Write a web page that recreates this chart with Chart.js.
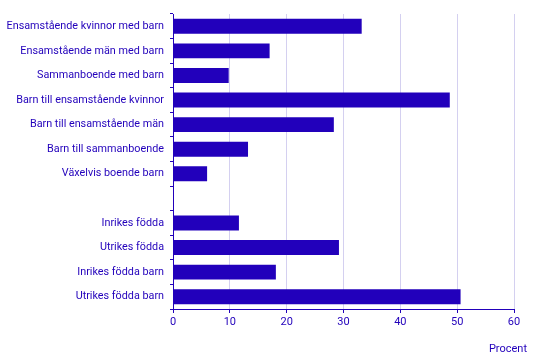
<!DOCTYPE html>
<html>
<head>
<meta charset="utf-8">
<script src="https://cdn.jsdelivr.net/npm/chart.js@4/dist/chart.umd.min.js"></script>
<style>
  html, body { margin: 0; padding: 0; background: #fff; }
  #wrap { position: relative; width: 535px; height: 363px; }
  #unit { position: absolute; right: 8px; top: 342px; font: 11px Roboto, sans-serif; color: #2200bb; }
</style>
</head>
<body>
<div id="wrap">
  <canvas id="c" width="535" height="363"></canvas>
  <div id="unit">Procent</div>
</div>
<script>
const categories = [
  'Ensamstående kvinnor med barn',
  'Ensamstående män med barn',
  'Sammanboende med barn',
  'Barn till ensamstående kvinnor',
  'Barn till ensamstående män',
  'Barn till sammanboende',
  'Växelvis boende barn',
  '',
  'Inrikes födda',
  'Utrikes födda',
  'Inrikes födda barn',
  'Utrikes födda barn'
];
const values = [33.2, 17.0, 9.8, 48.7, 28.3, 13.2, 6.0, null, 11.6, 29.2, 18.1, 50.6];
const xTicks = [0, 10, 20, 30, 40, 50, 60];

const blue = '#2200bb';
const font = { family: 'Roboto, sans-serif', size: 10.8 };

new Chart(document.getElementById('c'), {
  type: 'bar',
  data: {
    labels: categories,
    datasets: [{
      data: values,
      backgroundColor: blue,
      borderWidth: 0,
      barPercentage: 0.61,
      categoryPercentage: 1
    }]
  },
  options: {
    indexAxis: 'y',
    responsive: false,
    animation: false,
    layout: { padding: { top: 14, right: 21, left: 0, bottom: 0 } },
    plugins: { legend: { display: false }, tooltip: { enabled: false } },
    scales: {
      x: {
        min: xTicks[0],
        max: xTicks[xTicks.length - 1],
        afterBuildTicks: (s) => { s.ticks = xTicks.map(v => ({ value: v })); },
        afterFit: (s) => { s.height = 54; },
        grid: { color: '#d4d0f0', tickColor: blue, tickLength: 4, lineWidth: 1 },
        border: { color: blue, width: 1 },
        ticks: { color: blue, font: { family: 'Roboto, sans-serif', size: 11 }, padding: 3 }
      },
      y: {
        afterFit: (s) => { s.width = 173; },
        grid: { drawOnChartArea: false, offset: true, tickLength: 3, tickColor: blue },
        border: { color: blue, width: 1 },
        ticks: { color: blue, font: font, padding: 6, autoSkip: false }
      }
    }
  }
});
</script>
</body>
</html>
